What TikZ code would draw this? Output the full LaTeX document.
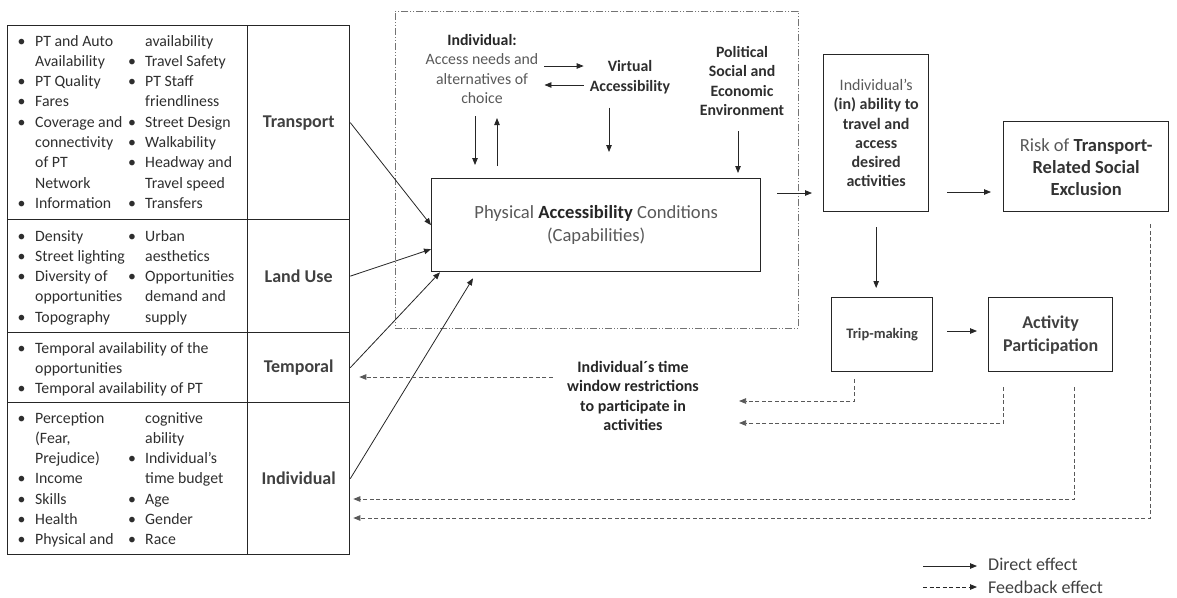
\documentclass[tikz,border=0pt]{standalone}
\usepackage{fontspec}
\setmainfont{Carlito}
\usetikzlibrary{arrows.meta,calc}
\begin{document}
\begin{tikzpicture}[x=1pt,y=-1pt,
  frame/.style={draw=black!85, line width=1.3pt, inner sep=0pt, anchor=north west},
  lbl/.style={frame, font=\fontsize{18}{21}\selectfont\bfseries, text=black!75},
  lsttext/.style={anchor=base west, inner sep=0pt, font=\fontsize{15.8}{20.3}\selectfont, text=black!82},
  txt/.style={align=center, inner sep=0pt, text=black!82, font=\fontsize{15.8}{19.5}\selectfont},
  arr/.style={-{Triangle[length=7pt,width=5.5pt]}, line width=0.8pt, draw=black!85},
  fb/.style={arr, dash pattern=on 4pt off 2.5pt, draw=black!65},
]
\useasboundingbox (0,0) rectangle (1177,597);

% ---------- left boxes ----------
\node[frame, minimum width=240pt, minimum height=194pt] (tlist) at (7,25) {};
\node[lbl, minimum width=102pt, minimum height=194pt] (trans) at (247,25) {Transport};
\node[frame, minimum width=240pt, minimum height=113pt] (llist) at (7,219) {};
\node[lbl, minimum width=102pt, minimum height=113pt] (land) at (247,219) {Land Use};
\node[frame, minimum width=240pt, minimum height=70pt] (tplist) at (7,332) {};
\node[lbl, minimum width=102pt, minimum height=70pt] (temp) at (247,332) {Temporal};
\node[frame, minimum width=240pt, minimum height=152pt] (ilist) at (7,402) {};
\node[lbl, minimum width=102pt, minimum height=152pt] (indiv) at (247,402) {Individual};

% list texts
\node[lsttext] (t1) at (17.5,46) {\begin{tabular}[t]{@{}p{17.5pt}@{}l@{}}
\textbullet & PT and Auto\\ & Availability\\ \textbullet & PT Quality\\ \textbullet & Fares\\
\textbullet & Coverage and\\ & connectivity\\ & of PT\\ & Network\\ \textbullet & Information
\end{tabular}};
\node[lsttext] (t2) at (128,46) {\begin{tabular}[t]{@{}p{17pt}@{}l@{}}
 & availability\\ \textbullet & Travel Safety\\ \textbullet & PT Staff\\ & friendliness\\
\textbullet & Street Design\\ \textbullet & Walkability\\ \textbullet & Headway and\\ & Travel speed\\ \textbullet & Transfers
\end{tabular}};
\node[lsttext] (l1) at (17.5,241) {\begin{tabular}[t]{@{}p{17.5pt}@{}l@{}}
\textbullet & Density\\ \textbullet & Street lighting\\ \textbullet & Diversity of\\ & opportunities\\ \textbullet & Topography
\end{tabular}};
\node[lsttext] (l2) at (128,241) {\begin{tabular}[t]{@{}p{17pt}@{}l@{}}
\textbullet & Urban\\ & aesthetics\\ \textbullet & Opportunities\\ & demand and\\ & supply
\end{tabular}};
\node[lsttext] (p1) at (17.5,353) {\begin{tabular}[t]{@{}p{17.5pt}@{}l@{}}
\textbullet & Temporal availability of the\\ & opportunities\\ \textbullet & Temporal availability of PT
\end{tabular}};
\node[lsttext] (i1) at (17.5,423) {\begin{tabular}[t]{@{}p{17.5pt}@{}l@{}}
\textbullet & Perception\\ & (Fear,\\ & Prejudice)\\ \textbullet & Income\\ \textbullet & Skills\\ \textbullet & Health\\ \textbullet & Physical and
\end{tabular}};
\node[lsttext] (i2) at (128,423) {\begin{tabular}[t]{@{}p{17pt}@{}l@{}}
 & cognitive\\ & ability\\ \textbullet & Individual’s\\ & time budget\\ \textbullet & Age\\ \textbullet & Gender\\ \textbullet & Race
\end{tabular}};

% ---------- central environment ----------
\node[anchor=north west, draw=black!55, line width=0.8pt, dash pattern=on 7pt off 2pt on 1pt off 2pt on 1pt off 2pt, minimum width=403pt, minimum height=317pt, inner sep=0pt] (env) at (395,11) {};

\node[frame, anchor=north west, minimum width=329pt, minimum height=93pt, align=center,
  font=\fontsize{18.6}{23}\selectfont, text=black!65] (phys) at (431,178)
  {Physical \textbf{\color{black!85}Accessibility} Conditions\\(Capabilities)};

\node[txt, text=black!65] (indtxt) at (482,69) {\textbf{\color{black!85}Individual:}\\Access needs and\\alternatives of\\choice};
\node[txt, font=\fontsize{15.8}{19.5}\selectfont\bfseries] (virt) at (630,77) {Virtual\\Accessibility};
\node[txt, font=\fontsize{15.8}{19.5}\selectfont\bfseries] (pol) at (742,81) {Political\\Social and\\Economic\\Environment};

% ---------- right side ----------
\node[frame, minimum width=105pt, minimum height=157pt, align=center,
  font=\fontsize{16}{19.3}\selectfont\bfseries, text=black!80] (ability) at (823,54)
  {{\mdseries\color{black!65}Individual’s}\\(in) ability to\\travel and\\access\\desired\\activities};
\node[frame, minimum width=165pt, minimum height=90pt, align=center,
  font=\fontsize{18.5}{22}\selectfont\bfseries, text=black!80] (risk) at (1003,121)
  {{\mdseries\color{black!65}Risk of} Transport-\\Related Social\\Exclusion};
\node[frame, minimum width=101pt, minimum height=74pt,
  font=\fontsize{14.5}{18}\selectfont\bfseries, text=black!75] (trip) at (831,297) {Trip-making};
\node[frame, minimum width=124pt, minimum height=74pt, align=center,
  font=\fontsize{18}{23}\selectfont\bfseries, text=black!75] (act) at (988,297) {Activity\\Participation};

\node[txt, font=\fontsize{16}{19.5}\selectfont\bfseries, text=black!85] (timewin) at (633,396)
  {Individual´s time\\window restrictions\\to participate in\\activities};

% ---------- solid arrows ----------
\draw[arr] (trans.east) -- (phys.west);
\draw[arr] (land.east) -- ($(phys.west)+(0,24)$);
\draw[arr] (temp.east) -- ($(phys.south west)+(9,0)$);
\draw[arr] (indiv.east) -- ($(phys.south west)+(42,6)$);

\coordinate (c1) at (475,0);
\coordinate (c2) at (497,0);
\coordinate (c3) at (609,0);
\coordinate (c4) at (738,0);
\draw[arr, shorten <=12pt, shorten >=13pt] (indtxt.south -| c1) -- (phys.north -| c1);
\draw[arr, shorten <=12pt, shorten >=14pt] (phys.north -| c2) -- (indtxt.south -| c2);
\draw[arr, shorten <=14pt, shorten >=26pt] (virt.south -| c3) -- (phys.north -| c3);
\draw[arr, shorten <=15pt, shorten >=5pt] (pol.south -| c4) -- (phys.north -| c4);

\coordinate (h1) at (0,66);
\coordinate (h2) at (0,85);
\draw[arr, shorten <=6pt, shorten >=6pt] (indtxt.east |- h1) -- (virt.west |- h1);
\draw[arr, shorten <=6pt, shorten >=6pt] (virt.west |- h2) -- (indtxt.east |- h2);

\coordinate (h3) at (0,193);
\draw[arr, shorten <=16pt, shorten >=11pt] (phys.east |- h3) -- (ability.west |- h3);
\coordinate (h4) at (0,192);
\draw[arr, shorten <=18pt, shorten >=12pt] (ability.east |- h4) -- (risk.west |- h4);
\draw[arr, shorten <=15pt, shorten >=9pt] (ability.south) -- (ability.south |- trip.north);
\coordinate (h5) at (0,331);
\draw[arr, shorten <=14pt, shorten >=11pt] (trip.east |- h5) -- (act.west |- h5);

% ---------- feedback arrows ----------
\coordinate (f1) at (0,377);
\draw[fb, shorten <=14pt, shorten >=9pt] (timewin.west |- f1) -- (temp.east |- f1);
\coordinate (f2) at (0,401);
\draw[fb, shorten <=7pt, shorten >=40pt] ([xshift=-27.5pt]trip.south) |- (timewin.east |- f2);
\coordinate (f3) at (0,423);
\draw[fb, shorten <=15pt, shorten >=40pt] ([xshift=-47pt]act.south) |- (timewin.east |- f3);
\coordinate (f4) at (0,499);
\draw[fb, shorten <=15pt, shorten >=3pt] ([xshift=24pt]act.south) |- (indiv.east |- f4);
\coordinate (f5) at (0,518);
\draw[fb, shorten <=12pt, shorten >=3pt] ([xshift=64.5pt]risk.south) |- (indiv.east |- f5);

% ---------- legend ----------
\node[anchor=west, inner sep=0pt, font=\fontsize{18}{21}\selectfont, text=black!75] (leg1) at (988,564) {Direct effect};
\node[anchor=west, inner sep=0pt, font=\fontsize{18}{21}\selectfont, text=black!75] (leg2) at (988,587) {Feedback effect};
\draw[arr, shorten >=11pt] ([xshift=-65pt,yshift=-2pt]leg1.west) -- ([yshift=-2pt]leg1.west);
\draw[fb, draw=black!85, shorten >=11pt] ([xshift=-65pt]leg2.west) -- (leg2.west);
\end{tikzpicture}
\end{document}
